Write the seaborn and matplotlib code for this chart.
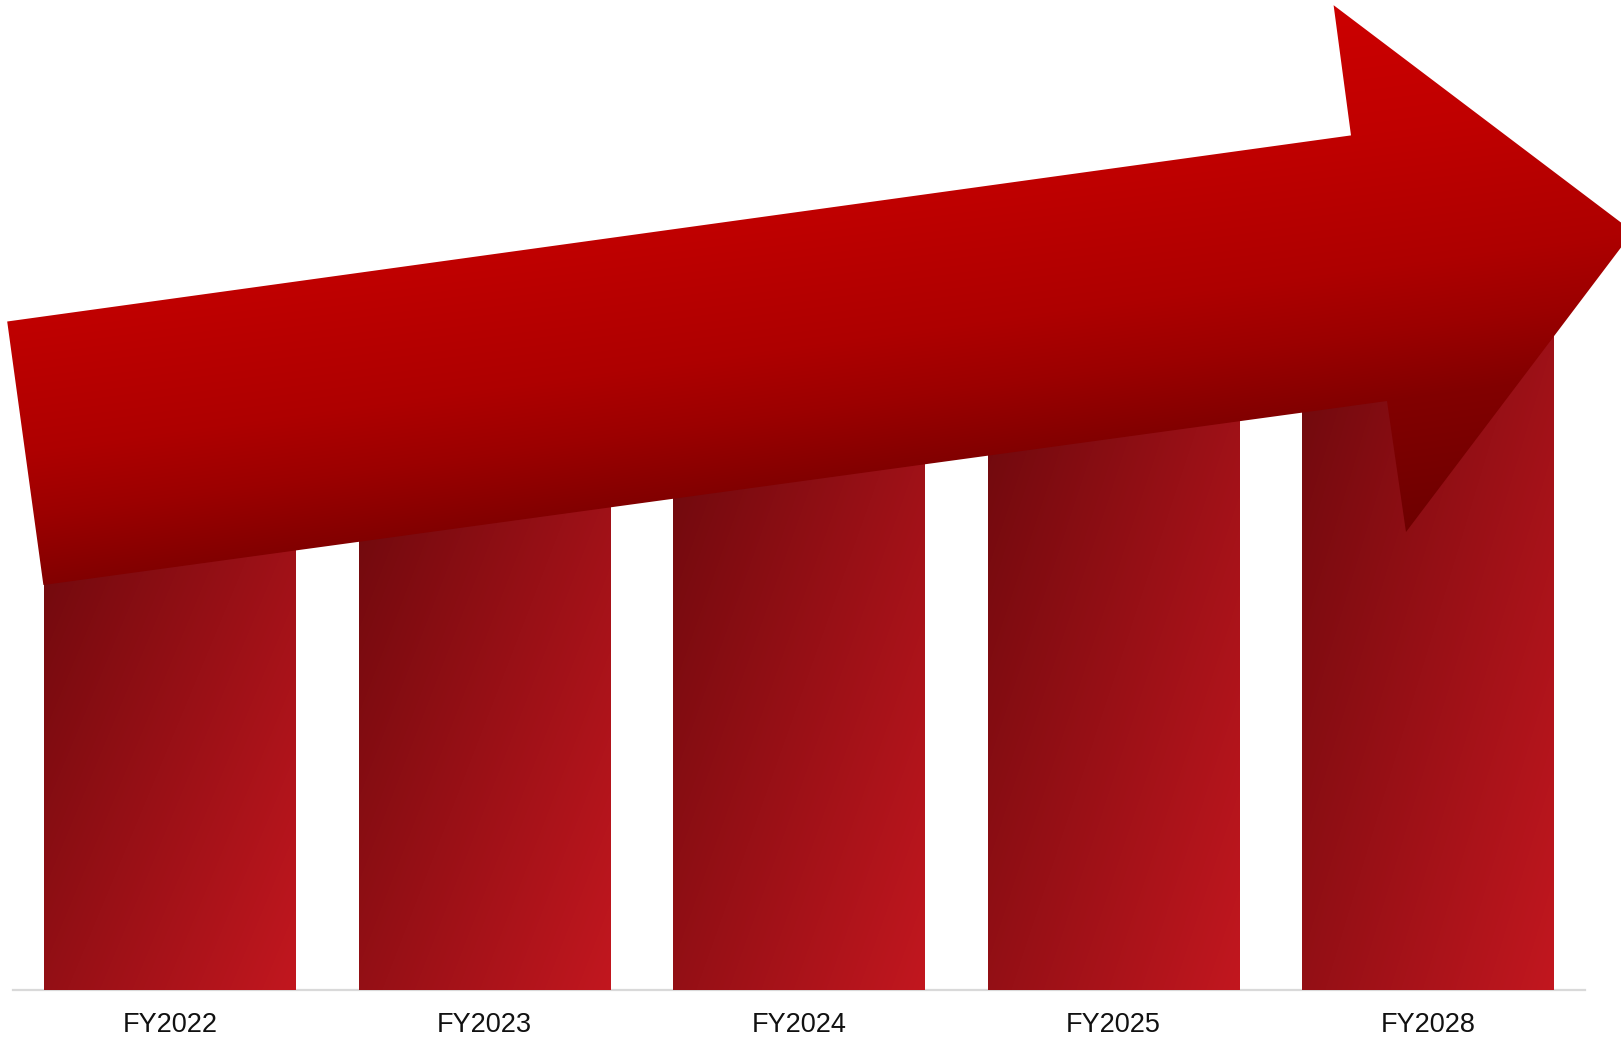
import numpy as np
import matplotlib
matplotlib.use("Agg")
import matplotlib.pyplot as plt
from matplotlib.patches import Polygon
import seaborn as sns

# Fiscal years and bar values
years = ["FY2022", "FY2023", "FY2024", "FY2025", "FY2028"]
values = [5.0, 5.4, 5.85, 6.3, 6.9]

W, H, DPI = 1621, 1039, 100

sns.set_theme(style="white")
plt.rcParams["font.family"] = ["Liberation Sans", "DejaVu Sans"]

fig = plt.figure(figsize=(W / DPI, H / DPI), dpi=DPI)
fig.patch.set_facecolor("white")

ax_left, ax_right = 12.8, 1585.0
ax_bottom, ax_top = 990.0, 5.0
ax = fig.add_axes([ax_left / W, (H - ax_bottom) / H,
                   (ax_right - ax_left) / W, (ax_bottom - ax_top) / H])

sns.barplot(x=years, y=values, ax=ax, color="#9c1015", width=0.8,
            saturation=1, edgecolor="none", linewidth=0)
ax.set_xlim(-0.5, len(years) - 0.5)
ax.set_ylim(0, 10)
ax.set_xlabel("")
ax.set_ylabel("")
ax.set_yticks([])
ax.grid(False)
for side in ("left", "right", "top"):
    ax.spines[side].set_visible(False)
ax.spines["bottom"].set_color("#d9d9d9")
ax.spines["bottom"].set_linewidth(1.6)
ax.tick_params(axis="x", length=0, pad=15.5, labelsize=19.5, labelcolor="#111111")
ax.set_facecolor("none")

# Diagonal gradient fill for each bar (in the bar's own box), clipped to the bar
c_dark = np.array([0x6e, 0x09, 0x0d]) / 255.0
c_light = np.array([0xc2, 0x17, 0x1f]) / 255.0
for patch in list(ax.patches):
    x0 = patch.get_x()
    bw = patch.get_width()
    bh = patch.get_height()
    nx, ny = 120, 300
    u = np.linspace(0, 1, nx)[None, :]
    v = np.linspace(0, 1, ny)[:, None]
    t = 0.55 * u + 0.45 * v
    img = c_dark[None, None, :] + t[:, :, None] * (c_light - c_dark)[None, None, :]
    im = ax.imshow(img, extent=(x0, x0 + bw, 0, bh), origin="upper",
                   aspect="auto", interpolation="bilinear", zorder=3)
    im.set_clip_path(patch)
ax.set_xlim(-0.5, len(years) - 0.5)
ax.set_ylim(0, 10)

# Rising arrow drawn over the bars in figure pixel coordinates
ov = fig.add_axes([0, 0, 1, 1], zorder=5)
ov.set_xlim(0, W)
ov.set_ylim(H, 0)
ov.axis("off")
ov.patch.set_alpha(0)

arrow_pts = np.array([
    (7.2, 321.5),     # tail top
    (1351.0, 135.4),  # shaft top meets head
    (1333.6, 5.2),    # head top barb
    (1633.0, 231.6),  # tip
    (1406.0, 532.0),  # head bottom barb
    (1387.0, 401.0),  # shaft bottom meets head
    (43.4, 585.0),    # tail bottom
])
arrow = Polygon(arrow_pts, closed=True, facecolor="none", edgecolor="none")
ov.add_patch(arrow)

gx, gy = np.meshgrid(np.arange(W) + 0.5, np.arange(H) + 0.5)
d = arrow_pts[5] - arrow_pts[6]
ang = np.arctan2(d[1], d[0])
n = np.array([-np.sin(ang), np.cos(ang)])
p0, p1 = arrow_pts[2], arrow_pts[4]
span = (p1 - p0) @ n
ta = ((gx - p0[0]) * n[0] + (gy - p0[1]) * n[1]) / span
ta = np.clip(ta, 0, 1)
red = np.interp(ta, [0, 0.25, 0.5, 0.62, 0.75, 1.0],
                [204, 192, 174, 156, 130, 110]) / 255.0
aimg = np.zeros((H, W, 3))
aimg[:, :, 0] = red
aim = ov.imshow(aimg, extent=(0, W, H, 0), origin="upper", aspect="auto",
                interpolation="bilinear", zorder=2)
aim.set_clip_path(arrow)
ov.set_xlim(0, W)
ov.set_ylim(H, 0)

fig.savefig("out.png", dpi=DPI, facecolor="white")
